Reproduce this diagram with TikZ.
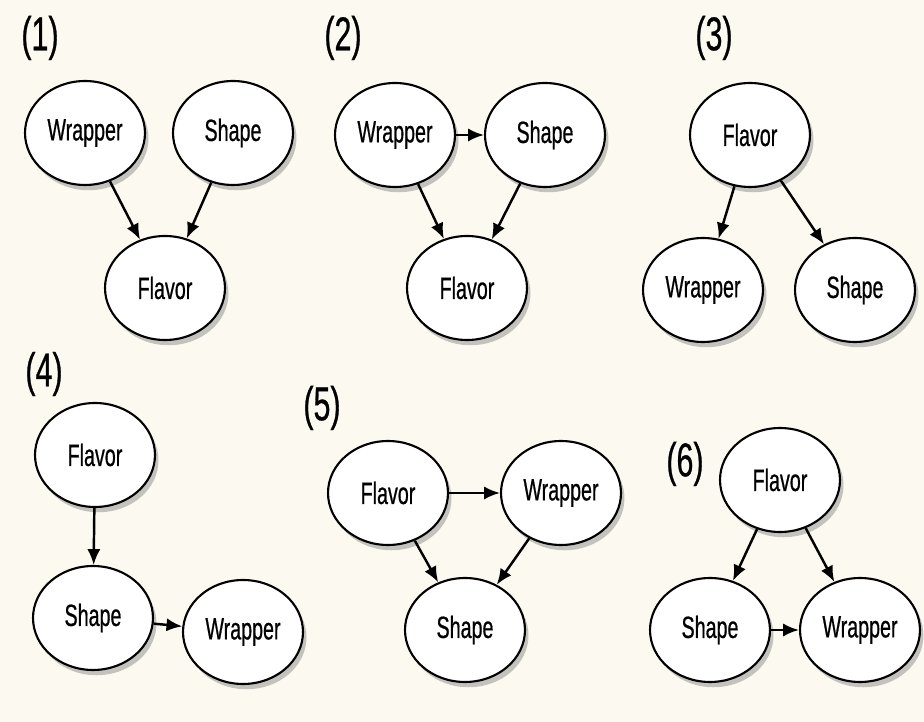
\documentclass[tikz,border=0pt]{standalone}
\usepackage{fontspec}
\setmainfont{Liberation Sans}[FakeStretch=0.64,FakeBold=0.6]
\usetikzlibrary{shapes.geometric,arrows.meta,shadows}
\definecolor{paper}{RGB}{252,250,240}
\tikzset{
  var/.style={draw, ellipse, line width=1.2pt, fill=white, minimum width=2.4cm, minimum height=2.08cm,
    inner sep=0pt, font=\fontsize{17.5}{17.5}\selectfont,
    drop shadow={shadow xshift=2pt, shadow yshift=-3pt, fill=black!45}},
  dep/.style={line width=1.4pt, -{Latex[length=9pt,width=7.5pt]}},
  tag/.style={font=\fontsize{27}{27}\selectfont, anchor=center}
}
\begin{document}
\begin{tikzpicture}[x=0.02cm, y=-0.02cm]
    \fill[paper] (0,0) rectangle (924,722);
    \useasboundingbox (0,0) rectangle (924,722);

    % Panel 1
    \node[tag] (t1) at (40,38) {(1)};
    \node[var] (w1) at (85,133) {Wrapper};
    \node[var] (s1) at (233,133) {Shape};
    \node[var] (f1) at (165,288) {Flavor};
    \draw[dep] (w1) -- (f1);
    \draw[dep] (s1) -- (f1);

    % Panel 2
    \node[tag] (t2) at (343,38) {(2)};
    \node[var] (w2) at (395,135) {Wrapper};
    \node[var] (s2) at (545,135) {Shape};
    \node[var] (f2) at (467,288) {Flavor};
    \draw[dep] (w2) -- (s2);
    \draw[dep] (w2) -- (f2);
    \draw[dep] (s2) -- (f2);

    % Panel 3
    \node[tag] (t3) at (714,38) {(3)};
    \node[var] (f3) at (750,135) {Flavor};
    \node[var] (w3) at (703,290) {Wrapper};
    \node[var] (s3) at (855,290) {Shape};
    \draw[dep] (f3) -- (w3);
    \draw[dep] (f3) -- (s3);

    % Panel 4
    \node[tag] (t4) at (44,374) {(4)};
    \node[var] (f4) at (95,455) {Flavor};
    \node[var] (s4) at (93,618) {Shape};
    \node[var] (w4) at (243,632) {Wrapper};
    \draw[dep] (f4) -- (s4);
    \draw[dep] (s4) -- (w4);

    % Panel 5
    \node[tag] (t5) at (322,408) {(5)};
    \node[var] (f5) at (388,493) {Flavor};
    \node[var] (w5) at (561,493) {Wrapper};
    \node[var] (s5) at (465,630) {Shape};
    \draw[dep] (f5) -- (w5);
    \draw[dep] (f5) -- (s5);
    \draw[dep] (w5) -- (s5);

    % Panel 6
    \node[tag] (t6) at (685,464) {(6)};
    \node[var] (f6) at (780,480) {Flavor};
    \node[var] (s6) at (710,630) {Shape};
    \node[var] (w6) at (860,630) {Wrapper};
    \draw[dep] (f6) -- (s6);
    \draw[dep] (f6) -- (w6);
    \draw[dep] (s6) -- (w6);
\end{tikzpicture}
\end{document}
